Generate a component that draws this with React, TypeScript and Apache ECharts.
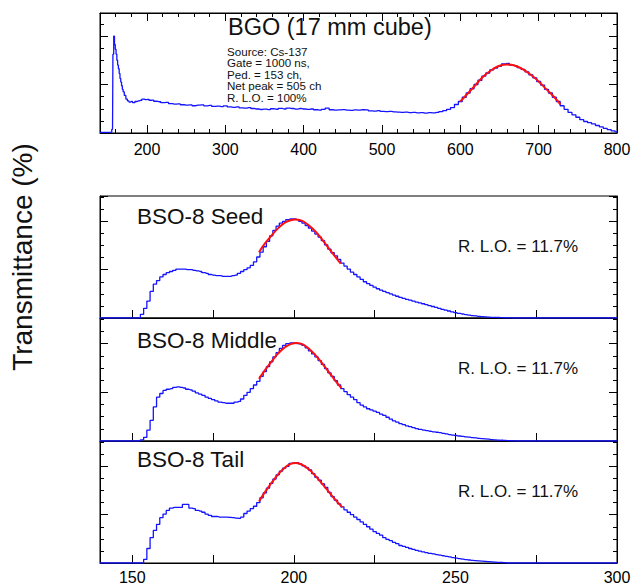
import React, { useEffect, useRef } from "react";
import * as echarts from "echarts";

// ---------- data ----------
// BGO spectrum: [channel, counts (arb. units)]
const bgoSpectrum: [number, number][] = [
  [140, 0.05], [145, 0.05], [150, 0.05], [154, 0.05], [156, 0.3], [157, 6.5], [158, 8.0], [159, 7.3],
  [160, 6.9], [161, 6.5], [162, 6.0], [163, 5.6], [164, 5.3], [165, 4.9], [166, 4.5], [167, 4.2],
  [168, 3.9], [169, 3.6], [170, 3.4], [172, 3.1], [174, 2.8], [176, 2.65], [178, 2.55], [180, 2.6],
  [183, 2.5], [186, 2.6], [189, 2.65], [192, 2.7], [195, 2.8], [198, 2.75], [201, 2.78], [204, 2.7],
  [207, 2.72], [210, 2.62], [215, 2.58], [220, 2.5], [225, 2.52], [230, 2.42], [235, 2.38], [240, 2.4],
  [245, 2.33], [250, 2.3], [255, 2.32], [260, 2.25], [265, 2.3], [270, 2.32], [275, 2.24], [280, 2.28],
  [285, 2.2], [290, 2.22], [295, 2.18], [300, 2.24], [305, 2.15], [310, 2.12], [315, 2.16], [320, 2.08],
  [325, 2.05], [330, 2.1], [335, 2.02], [340, 1.98], [345, 1.94], [350, 1.97], [355, 1.93], [360, 2.0],
  [365, 1.96], [370, 2.03], [375, 1.98], [380, 2.06], [385, 2.02], [390, 1.97], [395, 2.02], [400, 1.98],
  [405, 1.95], [410, 1.98], [415, 1.92], [420, 1.88], [425, 1.95], [430, 2.06], [435, 1.92], [440, 1.88],
  [445, 1.9], [450, 1.93], [455, 1.88], [460, 1.86], [465, 1.9], [470, 1.88], [475, 1.92], [480, 1.9],
  [485, 1.83], [490, 1.8], [495, 1.84], [500, 1.78], [505, 1.76], [510, 1.78], [515, 1.74], [520, 1.73],
  [525, 1.7], [530, 1.72], [535, 1.68], [540, 1.7], [545, 1.66], [550, 1.68], [555, 1.64], [560, 1.68],
  [565, 1.66], [570, 1.7], [575, 1.76], [580, 1.84], [585, 1.95], [590, 2.1], [595, 2.35], [600, 2.6],
  [605, 2.95], [610, 3.3], [615, 3.65], [620, 4.0], [625, 4.35], [630, 4.7], [635, 4.95], [640, 5.2],
  [645, 5.35], [650, 5.5], [655, 5.7], [660, 5.75], [665, 5.6], [670, 5.55], [675, 5.4], [680, 5.25],
  [685, 5.05], [690, 4.8], [695, 4.55], [700, 4.25], [705, 3.95], [710, 3.6], [715, 3.3], [720, 2.95],
  [725, 2.6], [730, 2.25], [735, 1.95], [740, 1.7], [745, 1.5], [750, 1.3], [755, 1.1], [760, 0.95],
  [765, 0.85], [770, 0.75], [775, 0.62], [780, 0.5], [785, 0.38], [790, 0.28], [795, 0.18], [800, 0.1],
];
const bgoFit: [number, number][] = [
  [600, 2.6], [610, 3.3], [620, 4.0], [630, 4.7], [640, 5.2], [650, 5.55], [660, 5.65],
  [670, 5.55], [680, 5.25], [690, 4.8], [700, 4.25], [710, 3.6], [720, 2.95], [728, 2.35],
];

// BSO-8 spectra, one value per channel starting at channel 140 and ending at 300
const BSO_START = 140;
const seedCounts: number[] = [
  0, 0, 0, 0, 0, 0, 0, 0, 0, 0, // 140
  0, 0, 0, 0.3, 0.8, 1.4, 2.2, 2.8, 3.1, 3.4, // 150
  3.6, 3.75, 3.85, 3.95, 4.05, 4.05, 4.05, 4.0, 4.0, 3.95, // 160
  3.9, 3.85, 3.75, 3.7, 3.6, 3.55, 3.5, 3.5, 3.45, 3.45, // 170
  3.45, 3.5, 3.55, 3.7, 3.85, 4.0, 4.15, 4.35, 4.65, 5.05, // 180
  5.45, 5.9, 6.35, 6.8, 7.25, 7.6, 7.85, 8.0, 8.15, 8.2, // 190
  8.2, 8.15, 8.0, 7.85, 7.65, 7.45, 7.2, 6.95, 6.7, 6.4, // 200
  6.05, 5.7, 5.4, 5.15, 4.85, 4.55, 4.3, 4.05, 3.8, 3.6, // 210
  3.4, 3.2, 3.0, 2.85, 2.7, 2.55, 2.42, 2.3, 2.2, 2.1, // 220
  2.0, 1.9, 1.8, 1.7, 1.62, 1.55, 1.48, 1.4, 1.32, 1.25, // 230
  1.18, 1.1, 1.02, 0.95, 0.88, 0.8, 0.72, 0.65, 0.58, 0.5, // 240
  0.44, 0.38, 0.33, 0.28, 0.24, 0.2, 0.17, 0.14, 0.12, 0.1, // 250
  0.08, 0.06, 0.05, 0.04, 0.03, 0.02, 0.02, 0.01, 0, 0, // 260
  0, 0, 0, 0, 0, 0, 0, 0, 0, 0, // 270
  0, 0, 0, 0, 0, 0, 0, 0, 0, 0, // 280
  0, 0, 0, 0, 0, 0, 0, 0, 0, 0, // 290
  0, // 300
];
const middleCounts: number[] = [
  0, 0, 0, 0, 0, 0, 0, 0, 0, 0, // 140
  0, 0, 0, 0.1, 0.3, 0.9, 1.7, 2.8, 3.6, 3.9, // 150
  4.15, 4.25, 4.3, 4.4, 4.45, 4.4, 4.35, 4.25, 4.2, 4.1, // 160
  3.95, 3.85, 3.75, 3.6, 3.5, 3.4, 3.3, 3.2, 3.15, 3.1, // 170
  3.1, 3.1, 3.2, 3.25, 3.45, 3.75, 4.0, 4.3, 4.6, 4.9, // 180
  5.3, 5.7, 6.1, 6.5, 6.9, 7.25, 7.6, 7.85, 8.0, 8.05, // 190
  8.05, 8.0, 7.95, 7.85, 7.65, 7.4, 7.15, 6.9, 6.6, 6.3, // 200
  5.95, 5.6, 5.3, 4.95, 4.6, 4.3, 4.05, 3.8, 3.6, 3.4, // 210
  3.15, 2.95, 2.8, 2.65, 2.55, 2.45, 2.35, 2.2, 2.1, 1.95, // 220
  1.8, 1.65, 1.55, 1.42, 1.35, 1.25, 1.18, 1.1, 1.02, 0.95, // 230
  0.9, 0.85, 0.8, 0.75, 0.72, 0.68, 0.63, 0.58, 0.53, 0.48, // 240
  0.45, 0.41, 0.38, 0.34, 0.31, 0.28, 0.25, 0.22, 0.2, 0.17, // 250
  0.15, 0.12, 0.1, 0.08, 0.06, 0.05, 0.03, 0.02, 0.01, 0, // 260
  0, 0, 0, 0, 0, 0, 0, 0, 0, 0, // 270
  0, 0, 0, 0, 0, 0, 0, 0, 0, 0, // 280
  0, 0, 0, 0, 0, 0, 0, 0, 0, 0, // 290
  0, // 300
];
const tailCounts: number[] = [
  0, 0, 0, 0, 0, 0, 0, 0, 0, 0, // 140
  0, 0, 0, 0, 0.3, 1.2, 2.1, 2.7, 3.2, 3.75, // 150
  4.05, 4.35, 4.55, 4.6, 4.6, 4.6, 4.85, 4.85, 4.55, 4.5, // 160
  4.35, 4.3, 4.2, 4.05, 3.95, 3.85, 3.85, 3.8, 3.8, 3.8, // 170
  3.78, 3.75, 3.72, 3.7, 3.8, 4.1, 4.3, 4.5, 4.7, 5.0, // 180
  5.4, 5.8, 6.2, 6.6, 6.95, 7.3, 7.6, 7.85, 8.0, 8.25, // 190
  8.3, 8.3, 8.2, 8.05, 7.9, 7.7, 7.4, 7.1, 6.85, 6.55, // 200
  6.25, 5.85, 5.5, 5.2, 4.9, 4.65, 4.4, 4.2, 4.0, 3.8, // 210
  3.6, 3.4, 3.2, 3.0, 2.8, 2.6, 2.45, 2.3, 2.1, 1.95, // 220
  1.85, 1.7, 1.6, 1.45, 1.38, 1.3, 1.2, 1.12, 1.05, 0.98, // 230
  0.92, 0.86, 0.8, 0.75, 0.7, 0.65, 0.6, 0.55, 0.5, 0.45, // 240
  0.4, 0.36, 0.32, 0.28, 0.25, 0.22, 0.19, 0.17, 0.15, 0.13, // 250
  0.11, 0.1, 0.08, 0.06, 0.04, 0.02, 0, 0, 0, 0, // 260
  0, 0, 0, 0, 0, 0, 0, 0, 0, 0, // 270
  0, 0, 0, 0, 0, 0, 0, 0, 0, 0, // 280
  0, 0, 0, 0, 0, 0, 0, 0, 0, 0, // 290
  0, // 300
];
const seedFit: [number, number][] = [
  [189.2, 5.45], [191, 6.15], [193, 6.8], [195, 7.4], [197, 7.85], [199, 8.1], [200.5, 8.15],
  [202, 8.1], [204, 7.8], [206, 7.35], [208, 6.75], [210, 6.05], [212, 5.35], [214.5, 4.5],
];
const middleFit: [number, number][] = [
  [189.2, 5.1], [191, 5.8], [193, 6.5], [195, 7.15], [197, 7.65], [199, 7.95], [201, 8.05],
  [203, 7.9], [205, 7.5], [207, 6.95], [209, 6.3], [211, 5.6], [213, 4.9], [214.7, 4.35],
];
const tailFit: [number, number][] = [
  [189.2, 5.1], [191, 5.85], [193, 6.6], [195, 7.3], [197, 7.85], [199, 8.2], [200.5, 8.28],
  [202, 8.2], [204, 7.9], [206, 7.4], [208, 6.8], [210, 6.15], [212, 5.5], [215, 4.6],
];

const bsoLabels = ["BSO-8 Seed", "BSO-8 Middle", "BSO-8 Tail"];
const rloLabel = "R. L.O. = 11.7%";
const bgoTitle = "BGO (17 mm cube)";
const bgoInfo = ["Source: Cs-137", "Gate = 1000 ns,", "Ped. = 153 ch,", "Net peak = 505 ch", "R. L.O. = 100%"];
const yTitle = "Transmittance (%)";

const TOP_X = [140, 800];
const TOP_X_STEP = 100;
const BSO_X = [140, 300];
const BSO_X_STEP = 25;
const TOP_Y_MAX = 9.9;
const BSO_Y_MAX = 10.1;

// ---------- layout / style ----------
const FONT = '"Liberation Sans", Arial, Helvetica, sans-serif';
const BLUE = "#1414ff";
const RED = "#ff1010";
const GRID_LEFT = 100;
const GRID_WIDTH = 517;
const grids = [
  { top: 13, height: 120 },
  { top: 196, height: 122 },
  { top: 318, height: 123 },
  { top: 441, height: 122 },
];

export default function App() {
  const ref = useRef<HTMLDivElement>(null);
  useEffect(() => {
    if (!ref.current) return;
    const chart = echarts.init(ref.current, null, { renderer: "svg" });

    const tick = (len: number) => ({ show: true, inside: true, length: len, lineStyle: { color: "#000", width: 1 } });
    const line = { show: true, onZero: false, lineStyle: { color: "#000", width: 1 } };

    const xAxis: any[] = [];
    const yAxis: any[] = [];
    ["bottom", "top"].forEach((pos) => {
      xAxis.push({
        type: "value", gridIndex: 0, position: pos, min: TOP_X[0], max: TOP_X[1],
        minInterval: TOP_X_STEP, maxInterval: TOP_X_STEP,
        axisLine: line, axisTick: tick(8),
        minorTick: { show: true, splitNumber: 5, length: 4, lineStyle: { color: "#000", width: 1 } },
        splitLine: { show: false },
        axisLabel: {
          show: pos === "bottom", showMinLabel: false, margin: 8, color: "#000", fontSize: 16, fontFamily: FONT,
          formatter: (v: number) => (v % 100 === 0 ? String(v) : ""),
        },
      });
    });
    [1, 2, 3].forEach((g) => {
      xAxis.push({
        type: "value", gridIndex: g, position: "bottom", min: BSO_X[0], max: BSO_X[1],
        minInterval: BSO_X_STEP, maxInterval: BSO_X_STEP,
        axisLine: line, axisTick: tick(8), minorTick: { show: false },
        splitLine: { show: false },
        axisLabel: {
          show: g === 3, showMinLabel: false, margin: 6, color: "#000", fontSize: 16, fontFamily: FONT,
          formatter: (v: number) => (v % 50 === 0 ? String(v) : ""),
        },
      });
    });
    [0, 1, 2, 3].forEach((g) => {
      ["left", "right"].forEach((pos) => {
        yAxis.push({
          type: "value", gridIndex: g, position: pos, min: 0, max: g === 0 ? TOP_Y_MAX : BSO_Y_MAX, interval: 4,
          axisLine: line, axisTick: tick(8),
          minorTick: { show: true, splitNumber: 4, length: 4, lineStyle: { color: "#000", width: 1 } },
          splitLine: { show: false }, axisLabel: { show: false },
        });
      });
    });

    const toSeries = (counts: number[]) => counts.map((v, i) => [BSO_START + i, v]);
    const histo = (data: any, xi: number, yi: number) => ({
      type: "line", xAxisIndex: xi, yAxisIndex: yi, data, step: "middle", symbol: "none",
      lineStyle: { color: BLUE, width: 1.3 }, z: 2,
    });
    const fit = (data: any, xi: number, yi: number) => ({
      type: "line", xAxisIndex: xi, yAxisIndex: yi, data, smooth: true, symbol: "none",
      lineStyle: { color: RED, width: 2 }, z: 3,
    });

    const series = [
      histo(bgoSpectrum, 0, 0), fit(bgoFit, 0, 0),
      histo(toSeries(seedCounts), 2, 2), fit(seedFit, 2, 2),
      histo(toSeries(middleCounts), 3, 4), fit(middleFit, 3, 4),
      histo(toSeries(tailCounts), 4, 6), fit(tailFit, 4, 6),
    ];

    const txt = (text: string, x: number, y: number, size: number, lh?: number) => ({
      type: "text", x, y,
      style: {
        text, fontSize: size, fontFamily: FONT, fill: "#111", align: "left", verticalAlign: "middle",
        lineHeight: lh ?? size,
      },
    });

    const graphic: any[] = [
      txt(bgoTitle, 228, 26.5, 23.5),
      ...bgoInfo.map((t, i) => txt(t, 227, 51 + i * 11.6, 11.6, 11)),
      ...bsoLabels.map((t, i) => txt(t, 137, grids[i + 1].top + [20, 22, 18][i], 22.5)),
      ...bsoLabels.map((_, i) => txt(rloLabel, 458, grids[i + 1].top + 50.5, 17)),
      {
        type: "text", x: 22.5, y: 257, rotation: Math.PI / 2,
        style: { text: yTitle, fontSize: 28, fontFamily: FONT, fill: "#111", align: "center", verticalAlign: "middle" },
      },
    ];

    chart.setOption({
      animation: false,
      backgroundColor: "#fff",
      grid: grids.map((g) => ({
        left: GRID_LEFT, width: GRID_WIDTH, top: g.top, height: g.height,
        show: true, borderColor: "#000", borderWidth: 1, backgroundColor: "transparent",
      })),
      xAxis,
      yAxis,
      series,
      graphic,
    });
    return () => chart.dispose();
  }, []);
  return <div ref={ref} style={{ position: "absolute", left: 0, top: 0, width: 635, height: 585 }} />;
}
